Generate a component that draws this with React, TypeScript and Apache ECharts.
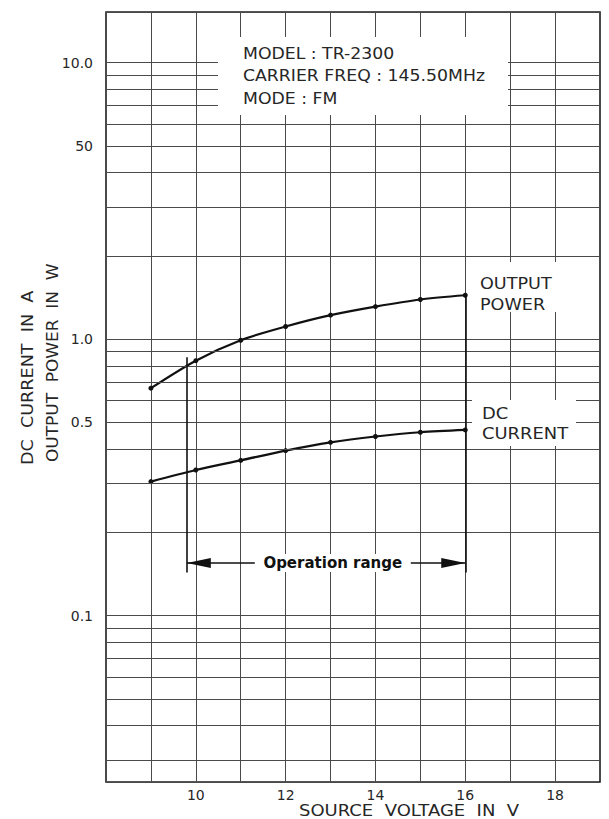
import React, { useEffect, useRef } from 'react';
import * as echarts from 'echarts';

// ---- data ----
const voltages = [9, 10, 11, 12, 13, 14, 15, 16];
const outputPower = [0.664, 0.835, 0.99, 1.11, 1.22, 1.31, 1.39, 1.44];
const dcCurrent = [0.305, 0.336, 0.364, 0.395, 0.423, 0.444, 0.46, 0.469];

const xTickLabels = [10, 12, 14, 16, 18];
const yDecadeLabels: Record<string, string> = { '-1': '0.1', '0': '1.0', '1': '10.0' };
const yExtraLabels = [
  { value: 5, text: '50' },
  { value: 0.5, text: '0.5' },
];
const minorLines = [
  0.03, 0.04, 0.05, 0.06, 0.07, 0.08, 0.09,
  0.2, 0.3, 0.4, 0.5, 0.6, 0.7, 0.8, 0.9,
  2, 3, 4, 5, 6, 7, 8, 9,
];

const opStart = 9.8;
const opEnd = 16;
const opArrowLevel = 0.155;
const opBracketBottom = 0.143;
const opBracketTopLeft = 0.86;
const opLabelX = 13.05;

const infoLines = ['MODEL : TR-2300', 'CARRIER FREQ : 145.50MHz', 'MODE : FM'];

const FONT = "'DejaVu Sans', sans-serif";
const INK = '#262626';
const GRID = '#4a4a4a';

const txt = (
  text: string,
  x: number,
  y: number,
  fontSize: number,
  extra: any = {}
) => ({
  type: 'text',
  x,
  y,
  z: 101,
  silent: true,
  ...extra,
  style: {
    text,
    fontSize,
    fontFamily: FONT,
    fill: INK,
    align: 'left',
    verticalAlign: 'middle',
    textAlign: 'left',
    textVerticalAlign: 'middle',
  },
});

const whiteRect = (x: number, y: number, w: number, h: number) => ({
  type: 'rect',
  z: 100,
  silent: true,
  shape: { x, y, width: w, height: h },
  style: { fill: '#ffffff' },
});

const buildOption = () => ({
  animation: false,
  backgroundColor: '#ffffff',
  grid: {
    left: 106,
    right: 9,
    top: 12,
    bottom: 37,
    show: true,
    borderColor: '#1e1e1e',
    borderWidth: 1.6,
    backgroundColor: 'transparent',
  },
  xAxis: {
    type: 'value',
    min: 8,
    max: 19,
    interval: 1,
    axisLine: { show: false },
    axisTick: { show: false },
    splitLine: { show: true, lineStyle: { color: GRID, width: 1 } },
    axisLabel: {
      margin: 6,
      fontSize: 14,
      fontFamily: FONT,
      color: INK,
      formatter: (v: number) => (xTickLabels.includes(v) ? String(v) : ''),
    },
  },
  yAxis: {
    type: 'log',
    logBase: 10,
    min: 0.025,
    max: 15.23,
    axisLine: { show: false },
    axisTick: { show: false },
    splitLine: { show: true, lineStyle: { color: GRID, width: 1 } },
    axisLabel: {
      margin: 13,
      fontSize: 14,
      fontFamily: FONT,
      color: INK,
      formatter: (v: number) => {
        const l = Math.log10(v);
        const r = Math.round(l);
        if (Math.abs(l - r) < 1e-6 && yDecadeLabels[String(r)]) return yDecadeLabels[String(r)];
        return '';
      },
    },
  },
  series: [
    {
      name: 'minor grid',
      type: 'line',
      data: [],
      z: 1,
      markLine: {
        silent: true,
        symbol: ['none', 'none'],
        lineStyle: { color: GRID, width: 1, type: 'solid' },
        emphasis: { disabled: true },
        label: { show: false },
        data: minorLines.map((v) => {
          const lab = yExtraLabels.find((e) => e.value === v);
          if (!lab) return { yAxis: v };
          return {
            yAxis: v,
            label: {
              show: true,
              position: 'start',
              distance: 13,
              formatter: lab.text,
              fontSize: 14,
              fontFamily: FONT,
              color: INK,
            },
          };
        }),
      },
    },
    {
      name: 'OUTPUT POWER',
      type: 'line',
      z: 3,
      smooth: 0.3,
      symbol: 'circle',
      symbolSize: 5,
      lineStyle: { color: '#111', width: 2.2 },
      itemStyle: { color: '#111' },
      data: voltages.map((x, i) => [x, outputPower[i]]),
    },
    {
      name: 'DC CURRENT',
      type: 'line',
      z: 3,
      smooth: 0.3,
      symbol: 'circle',
      symbolSize: 5,
      lineStyle: { color: '#111', width: 2.2 },
      itemStyle: { color: '#111' },
      data: voltages.map((x, i) => [x, dcCurrent[i]]),
    },
    {
      name: 'operation range',
      type: 'line',
      data: [],
      z: 4,
      markLine: {
        silent: true,
        symbol: ['none', 'none'],
        lineStyle: { color: '#111', width: 1.6, type: 'solid' },
        itemStyle: { color: '#111' },
        emphasis: { disabled: true },
        label: { show: false },
        data: [
          [{ coord: [opStart, opBracketTopLeft] }, { coord: [opStart, opBracketBottom] }],
          [
            { coord: [opEnd, outputPower[outputPower.length - 1]] },
            { coord: [opEnd, opBracketBottom] },
          ],
          [
            {
              coord: [opStart, opArrowLevel],
              symbol: 'triangle',
              symbolSize: [10, 24],
              symbolOffset: [0, 12],
            },
            {
              coord: [opEnd, opArrowLevel],
              symbol: 'triangle',
              symbolSize: [10, 24],
              symbolOffset: [0, 12],
            },
          ],
        ],
      },
    },
    {
      name: 'operation label',
      type: 'line',
      data: [],
      z: 6,
      markPoint: {
        silent: true,
        data: [
          {
            coord: [opLabelX, opArrowLevel],
            symbol: 'rect',
            symbolSize: [156, 18],
            itemStyle: { color: '#ffffff' },
            label: {
              show: true,
              position: 'inside',
              formatter: 'Operation range',
              color: '#111',
              fontSize: 15,
              fontWeight: 'bold',
              fontFamily: FONT,
            },
          },
        ],
      },
    },
  ],
  graphic: [
    // info box
    whiteRect(218, 37, 290, 78),
    txt(infoLines[0], 243, 54, 16, { scaleX: 1.08 }),
    txt(infoLines[1], 243, 76, 16, { scaleX: 1.08 }),
    txt(infoLines[2], 243, 99, 16, { scaleX: 1.08 }),
    // curve labels
    whiteRect(473, 262, 90, 50),
    txt('OUTPUT', 480, 283, 16, { scaleX: 1.1 }),
    txt('POWER', 480, 304, 16, { scaleX: 1.1 }),
    whiteRect(472, 400, 104, 46),
    txt('DC', 482, 413, 16, { scaleX: 1.12 }),
    txt('CURRENT', 482, 433, 16, { scaleX: 1.12 }),
    // axis titles
    txt('SOURCE  VOLTAGE  IN  V', 299, 811, 15, { scaleX: 1.2 }),
    txt('DC  CURRENT  IN  A', 27, 465, 16, { rotation: Math.PI / 2, scaleX: 1.1 }),
    txt('OUTPUT  POWER  IN  W', 53, 462, 16, { rotation: Math.PI / 2, scaleX: 1.06 }),
  ],
});

const App: React.FC = () => {
  const ref = useRef<HTMLDivElement>(null);
  useEffect(() => {
    if (!ref.current) return;
    const chart = echarts.init(ref.current, null, { renderer: 'svg' });
    chart.setOption(buildOption() as any);
    return () => {
      chart.dispose();
    };
  }, []);
  return (
    <div
      ref={ref}
      style={{ position: 'fixed', left: 0, top: 0, width: 609, height: 819, background: '#fff' }}
    />
  );
};

export default App;
